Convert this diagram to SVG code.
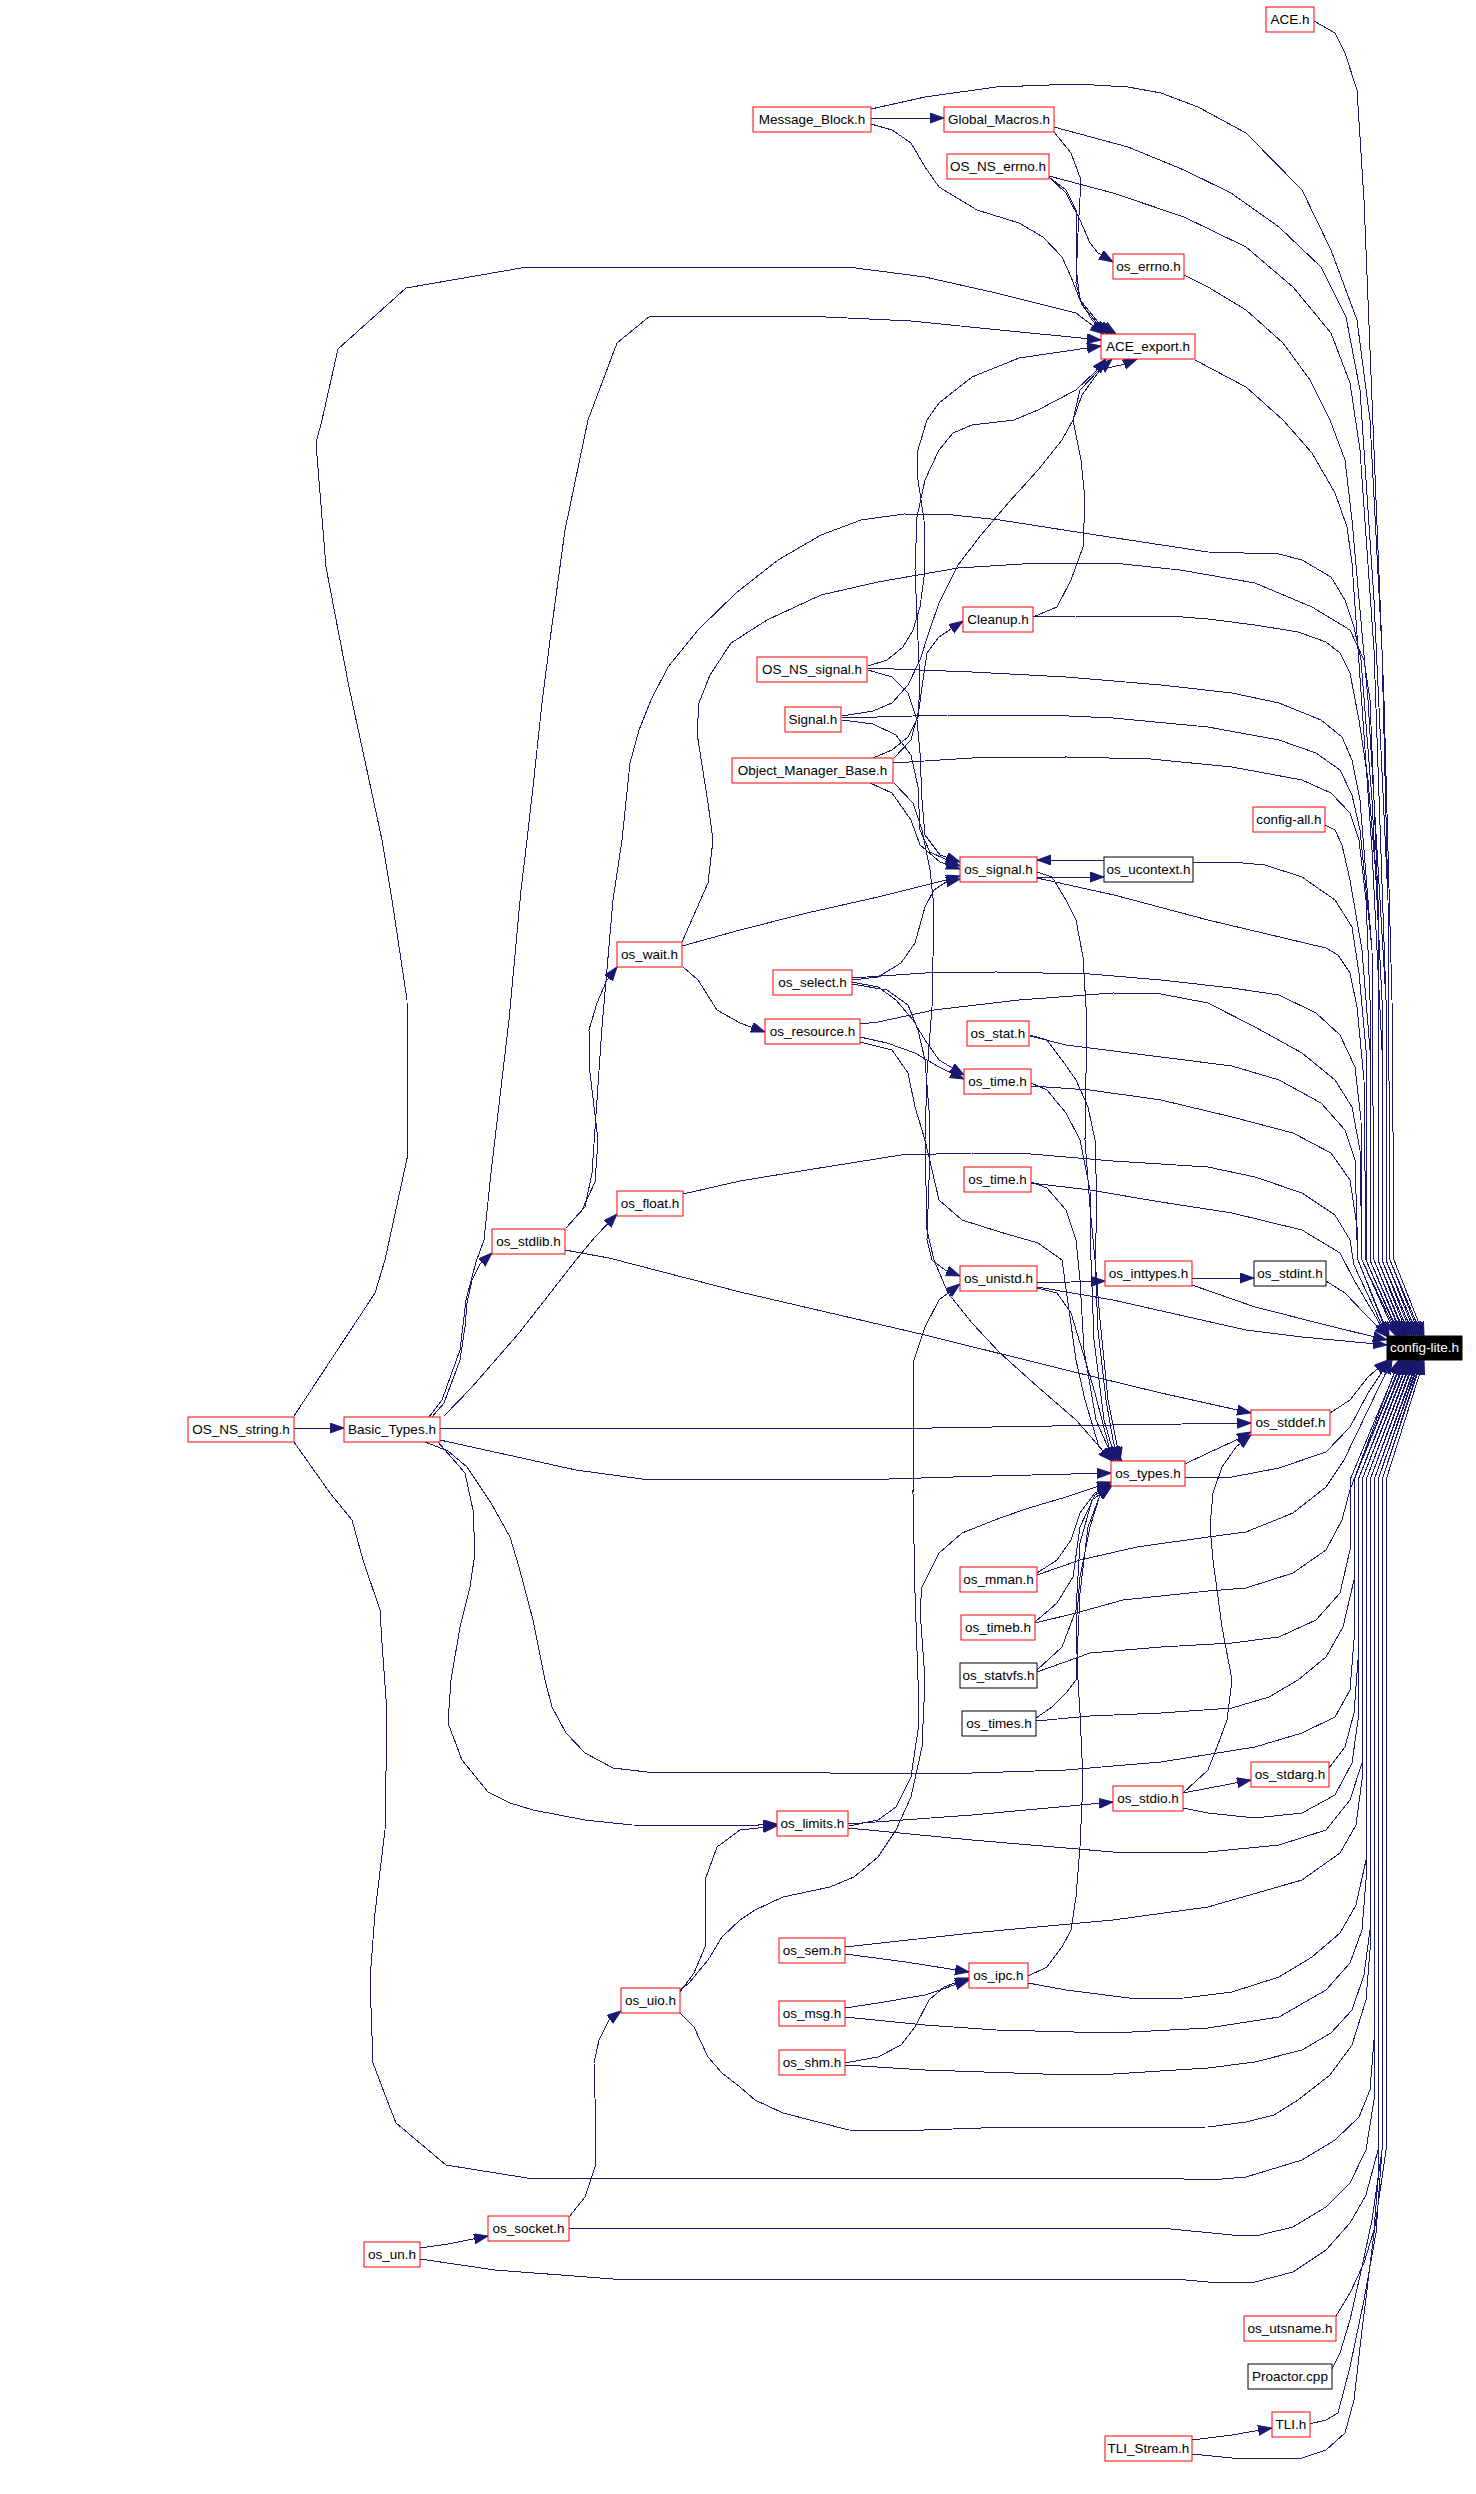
<svg xmlns="http://www.w3.org/2000/svg" width="1476" height="2494" viewBox="0 0 1476 2494">
<style>
#edges path{fill:none;stroke:#191970;stroke-width:1;marker-end:url(#ah);shape-rendering:crispEdges}
.n rect{fill:#fff;stroke:#ff0000;stroke-width:1}
.b rect{fill:#fff;stroke:#000;stroke-width:1}
.k rect{fill:#000;stroke:#000;stroke-width:1}
text{font-family:"Liberation Sans",Arial,Helvetica,sans-serif;font-size:13.5px;text-anchor:middle;fill:#000}
.k text{fill:#fff}
</style>
<defs>
<marker id="ah" markerUnits="userSpaceOnUse" markerWidth="15" markerHeight="11" refX="14" refY="5" orient="auto">
<path d="M0,0 L14,5 L0,10 z" fill="#191970" stroke="#191970" stroke-width="1"/>
</marker>
</defs>
<rect width="1476" height="2494" fill="#fff"/>
<g id="edges">
<path d="M1314,21 L1335,33 L1345,53 L1357,90 L1364,200 L1372,400 L1384,700 L1392,1000 L1394,1260 L1424,1336"/>
<path d="M871,109 L925,97 L996,87 L1076,84 L1128,87 L1161,93 L1198,107 L1246,133 L1302,190 L1331,250 L1357,320 L1370,420 L1382,650 L1388,900 L1390,1260 L1422,1336"/>
<path d="M1054,127 L1128,147 L1184,170 L1231,193 L1279,227 L1321,267 L1346,317 L1360,390 L1374,600 L1388,900 L1390,1260 L1420,1336"/>
<path d="M1049,176 L1113,193 L1184,217 L1246,247 L1293,287 L1331,333 L1350,383 L1360,450 L1374,650 L1386,1000 L1386,1260 L1418,1336"/>
<path d="M1184,275 L1208,287 L1246,310 L1283,343 L1310,380 L1330,420 L1345,460 L1352,520 L1368,700 L1386,1000 L1386,1260 L1416,1336"/>
<path d="M1195,360 L1246,387 L1283,420 L1312,453 L1335,493 L1347,527 L1352,563 L1356,620 L1372,850 L1382,1050 L1382,1260 L1414,1336"/>
<path d="M566,1228 L585,1207 L592,1173 L602,1027 L613,900 L622,840 L630,763 L639,730 L651,700 L668,667 L698,630 L736,593 L778,560 L821,535 L861,520 L904,514 L953,515 L1000,520 L1083,533 L1208,552 L1279,554 L1302,560 L1331,577 L1345,600 L1354,627 L1361,660 L1372,800 L1382,1000 L1382,1260 L1412,1336"/>
<path d="M682,942 L708,883 L713,840 L708,803 L697,733 L699,703 L710,675 L731,643 L767,620 L821,595 L878,582 L958,568 L1038,563 L1113,563 L1180,570 L1255,583 L1312,607 L1350,630 L1364,660 L1370,700 L1378,900 L1378,1260 L1410,1336"/>
<path d="M1033,617 L1076,616 L1170,616 L1208,619 L1255,625 L1298,632 L1326,642 L1340,653 L1350,673 L1359,720 L1368,780 L1378,900 L1378,1260 L1408,1336"/>
<path d="M868,668 L972,672 L1066,677 L1161,685 L1232,693 L1279,703 L1321,720 L1342,737 L1352,760 L1360,800 L1372,950 L1374,1260 L1406,1336"/>
<path d="M842,718 L948,715 L1047,715 L1113,718 L1208,727 L1279,740 L1316,753 L1340,770 L1352,795 L1360,830 L1372,950 L1374,1260 L1405,1336"/>
<path d="M893,763 L972,758 L1066,757 L1151,759 L1232,767 L1302,780 L1331,793 L1350,813 L1359,840 L1366,900 L1370,1000 L1370,1260 L1403,1336"/>
<path d="M1325,825 L1335,830 L1342,845 L1350,880 L1362,950 L1370,1050 L1370,1260 L1402,1336"/>
<path d="M1193,862 L1232,862 L1265,865 L1302,877 L1335,900 L1352,927 L1359,973 L1366,1050 L1366,1260 L1400,1336"/>
<path d="M1037,878 L1114,895 L1208,920 L1326,948 L1338,955 L1350,973 L1357,1007 L1364,1080 L1366,1260 L1399,1336"/>
<path d="M852,978 L925,973 L996,972 L1090,974 L1161,980 L1232,988 L1279,995 L1316,1013 L1340,1035 L1355,1067 L1361,1120 L1362,1260 L1398,1336"/>
<path d="M860,1024 L878,1022 L934,1010 L1019,1000 L1113,993 L1161,994 L1208,1003 L1255,1027 L1302,1053 L1335,1080 L1352,1107 L1360,1150 L1362,1260 L1396,1336"/>
<path d="M1030,1036 L1066,1045 L1161,1057 L1232,1066 L1279,1080 L1321,1103 L1345,1130 L1355,1160 L1358,1260 L1389,1336"/>
<path d="M1031,1086 L1090,1090 L1161,1100 L1232,1117 L1293,1133 L1331,1153 L1350,1180 L1356,1220 L1358,1260 L1388,1336"/>
<path d="M683,1194 L740,1181 L807,1170 L901,1155 L972,1153 L1019,1153 L1113,1161 L1208,1167 L1255,1177 L1302,1193 L1335,1215 L1350,1240 L1354,1265 L1387,1336"/>
<path d="M1031,1183 L1090,1190 L1161,1202 L1232,1213 L1302,1230 L1340,1253 L1354,1280 L1387,1336"/>
<path d="M1326,1281 L1345,1293 L1364,1313 L1388,1337"/>
<path d="M1192,1285 L1255,1307 L1326,1325 L1387,1340"/>
<path d="M1037,1287 L1113,1300 L1246,1330 L1302,1337 L1387,1345"/>
<path d="M1330,1413 L1350,1400 L1368,1377 L1388,1360"/>
<path d="M1185,1477 L1232,1477 L1279,1468 L1326,1452 L1350,1427 L1368,1393 L1390,1360"/>
<path d="M1037,1575 L1080,1560 L1137,1547 L1208,1537 L1246,1532 L1293,1513 L1326,1487 L1344,1460 L1392,1360"/>
<path d="M1035,1623 L1076,1613 L1123,1600 L1208,1591 L1246,1588 L1293,1573 L1326,1550 L1342,1520 L1350,1490 L1399,1360"/>
<path d="M1037,1672 L1090,1653 L1161,1647 L1232,1643 L1279,1637 L1316,1620 L1340,1593 L1350,1550 L1350,1480 L1400,1360"/>
<path d="M1036,1721 L1090,1716 L1161,1713 L1232,1708 L1269,1697 L1298,1680 L1326,1657 L1343,1627 L1354,1580 L1354,1480 L1402,1360"/>
<path d="M425,1442 L448,1451 L467,1467 L491,1503 L510,1537 L519,1567 L533,1620 L545,1680 L552,1707 L566,1733 L585,1753 L613,1768 L647,1772 L740,1772 L830,1773 L972,1773 L1066,1770 L1161,1762 L1255,1747 L1302,1733 L1335,1717 L1350,1690 L1354,1640 L1354,1480 L1403,1360"/>
<path d="M1329,1768 L1345,1747 L1354,1713 L1358,1660 L1358,1480 L1405,1360"/>
<path d="M1183,1808 L1208,1813 L1255,1818 L1302,1813 L1335,1795 L1352,1763 L1358,1720 L1358,1480 L1406,1360"/>
<path d="M848,1828 L972,1840 L1113,1852 L1208,1852 L1279,1845 L1326,1830 L1350,1800 L1362,1763 L1362,1480 L1408,1360"/>
<path d="M845,1947 L972,1933 L1113,1920 L1208,1907 L1302,1880 L1340,1853 L1356,1825 L1362,1780 L1362,1480 L1409,1360"/>
<path d="M1028,1983 L1066,1990 L1137,1999 L1184,1998 L1232,1992 L1279,1977 L1312,1957 L1340,1933 L1356,1905 L1366,1860 L1366,1480 L1411,1360"/>
<path d="M845,2017 L925,2025 L996,2030 L1113,2033 L1208,2028 L1279,2017 L1326,1990 L1350,1963 L1362,1930 L1366,1880 L1366,1480 L1412,1360"/>
<path d="M845,2065 L925,2070 L1043,2074 L1113,2074 L1208,2068 L1255,2062 L1302,2050 L1331,2033 L1352,2010 L1364,1975 L1370,1930 L1370,1480 L1414,1360"/>
<path d="M680,2013 L694,2027 L708,2057 L722,2073 L740,2087 L755,2100 L783,2113 L849,2130 L896,2131 L981,2128 L1208,2127 L1246,2122 L1274,2115 L1298,2100 L1330,2075 L1352,2045 L1366,2000 L1370,1950 L1370,1480 L1415,1360"/>
<path d="M294,1442 L330,1493 L352,1520 L363,1560 L380,1610 L382,1643 L387,1713 L385,1830 L375,1913 L370,1980 L373,2063 L387,2100 L396,2123 L446,2165 L527,2178 L740,2178 L1184,2179 L1222,2179 L1246,2177 L1302,2160 L1335,2140 L1359,2117 L1370,2090 L1374,2040 L1374,1480 L1417,1360"/>
<path d="M569,2228 L740,2228 L1161,2228 L1232,2235 L1260,2235 L1293,2227 L1326,2207 L1350,2183 L1366,2150 L1374,2100 L1374,1480 L1418,1360"/>
<path d="M420,2259 L495,2270 L613,2279 L740,2279 L1175,2279 L1208,2282 L1255,2282 L1293,2272 L1326,2250 L1350,2223 L1366,2195 L1378,2150 L1378,1480 L1419,1360"/>
<path d="M1336,2316 L1350,2293 L1364,2263 L1374,2230 L1378,2180 L1378,1480 L1420,1360"/>
<path d="M1332,2369 L1340,2353 L1350,2320 L1362,2267 L1372,2220 L1382,2150 L1382,1480 L1421,1360"/>
<path d="M1309,2424 L1326,2420 L1338,2413 L1350,2367 L1364,2300 L1376,2233 L1382,2150 L1382,1480 L1422,1360"/>
<path d="M1192,2454 L1232,2458 L1302,2458 L1326,2450 L1345,2433 L1354,2400 L1362,2330 L1374,2233 L1386,2150 L1386,1480 L1424,1360"/>
<path d="M871,118 L944,118"/>
<path d="M871,124 L892,130 L911,143 L925,167 L939,187 L977,210 L1019,223 L1043,237 L1062,257 L1071,277 L1080,300 L1092,320 L1108,334"/>
<path d="M1054,132 L1071,153 L1081,180 L1078,233 L1076,283 L1082,305 L1096,322 L1112,334"/>
<path d="M1049,177 L1066,190 L1076,210 L1076,267 L1080,300 L1098,322 L1116,334"/>
<path d="M1049,177 L1066,193 L1080,220 L1090,243 L1098,253 L1113,262"/>
<path d="M294,1416 L375,1293 L385,1260 L408,1154 L407,1000 L392,900 L382,840 L349,687 L326,567 L316,443 L322,420 L338,349 L406,288 L527,267 L736,267 L848,267 L925,277 L996,293 L1076,313 L1104,334"/>
<path d="M429,1417 L442,1400 L460,1350 L466,1300 L476,1262 L484,1240 L491,1173 L509,1020 L521,890 L527,840 L533,787 L542,703 L550,640 L565,530 L588,420 L617,343 L650,316 L740,316 L826,317 L911,321 L1000,330 L1101,340"/>
<path d="M868,666 L887,660 L903,647 L913,630 L920,607 L925,570 L924,520 L918,480 L917,453 L927,420 L939,403 L972,377 L1019,358 L1101,346"/>
<path d="M842,716 L873,711 L892,703 L908,685 L920,660 L929,632 L939,603 L958,565 L981,535 L1009,502 L1038,470 L1062,440 L1073,420 L1082,395 L1100,370 L1112,359"/>
<path d="M894,758 L911,740 L918,713 L920,687 L915,570 L917,517 L925,480 L939,450 L953,433 L972,425 L1014,420 L1038,410 L1076,390 L1095,372 L1106,359"/>
<path d="M1033,617 L1057,607 L1071,580 L1083,547 L1085,500 L1081,460 L1073,420 L1080,390 L1099,370 L1125,364 L1137,359"/>
<path d="M873,758 L892,750 L908,737 L918,717 L922,687 L927,653 L939,637 L963,621"/>
<path d="M868,670 L892,677 L908,693 L917,720 L920,753 L922,800 L925,835 L940,855 L960,862"/>
<path d="M842,720 L873,724 L896,735 L911,755 L918,787 L920,830 L930,852 L960,866"/>
<path d="M870,783 L892,793 L911,820 L920,845 L940,862 L960,869"/>
<path d="M894,783 L913,803 L922,830 L930,870 L934,907 L932,1007 L927,1073 L925,1140 L927,1230 L934,1260 L948,1293 L972,1323 L1000,1353 L1038,1387 L1076,1420 L1104,1452 L1114,1461"/>
<path d="M682,946 L740,930 L807,913 L878,897 L946,880 L960,876"/>
<path d="M852,980 L878,977 L901,963 L915,943 L925,907 L934,890 L946,882 L960,879"/>
<path d="M683,967 L698,980 L717,1010 L740,1023 L765,1032"/>
<path d="M852,982 L878,987 L896,1000 L913,1020 L925,1040 L939,1060 L964,1075"/>
<path d="M860,1037 L887,1043 L915,1053 L939,1067 L964,1079"/>
<path d="M852,984 L887,990 L908,1005 L918,1030 L925,1060 L929,1110 L929,1180 L927,1240 L932,1260 L945,1270 L960,1276"/>
<path d="M860,1042 L892,1050 L908,1073 L915,1107 L925,1140 L939,1200 L962,1220 L1000,1232 L1038,1243 L1062,1260 L1069,1310 L1076,1360 L1085,1400 L1099,1447 L1112,1461"/>
<path d="M1037,877 L1104,877"/>
<path d="M1104,860 L1037,860"/>
<path d="M1037,872 L1052,877 L1066,900 L1076,920 L1083,957 L1086,1007 L1086,1073 L1085,1140 L1090,1207 L1095,1260 L1100,1320 L1108,1400 L1116,1440 L1120,1461"/>
<path d="M1030,1035 L1047,1040 L1062,1060 L1076,1080 L1088,1107 L1095,1140 L1097,1207 L1095,1260 L1098,1330 L1106,1400 L1113,1440 L1118,1461"/>
<path d="M1031,1083 L1047,1090 L1066,1113 L1080,1140 L1090,1190 L1091,1260 L1094,1340 L1104,1420 L1116,1461"/>
<path d="M1031,1182 L1047,1188 L1066,1210 L1076,1240 L1080,1280 L1084,1350 L1096,1420 L1114,1461"/>
<path d="M1037,1288 L1057,1293 L1071,1313 L1080,1343 L1095,1393 L1109,1447 L1122,1461"/>
<path d="M1037,1283 L1105,1281"/>
<path d="M1192,1278 L1254,1278"/>
<path d="M432,1417 L444,1403 L460,1360 L465,1327 L467,1303 L472,1280 L480,1264 L492,1253"/>
<path d="M444,1416 L472,1387 L519,1333 L576,1260 L595,1237 L617,1214"/>
<path d="M440,1428 L740,1428 L932,1428 L1113,1425 L1251,1423"/>
<path d="M440,1440 L576,1470 L642,1479 L740,1479 L889,1479 L953,1477 L1111,1473"/>
<path d="M438,1442 L465,1473 L473,1510 L475,1553 L470,1587 L460,1627 L451,1680 L448,1723 L462,1760 L488,1792 L510,1803 L533,1810 L585,1820 L632,1825 L740,1826 L777,1824"/>
<path d="M294,1428 L344,1428"/>
<path d="M566,1228 L582,1210 L595,1182 L598,1140 L590,1073 L589,1030 L597,1003 L607,980 L617,967"/>
<path d="M565,1250 L609,1258 L740,1292 L925,1335 L1066,1370 L1161,1393 L1251,1413"/>
<path d="M1185,1464 L1208,1453 L1232,1442 L1251,1432"/>
<path d="M1183,1793 L1208,1770 L1217,1747 L1227,1720 L1232,1680 L1222,1627 L1213,1560 L1210,1527 L1213,1493 L1222,1467 L1236,1447 L1251,1435"/>
<path d="M1037,1573 L1057,1560 L1071,1540 L1080,1513 L1095,1493 L1111,1484"/>
<path d="M1035,1622 L1057,1603 L1073,1577 L1080,1527 L1095,1495 L1111,1485"/>
<path d="M1037,1670 L1062,1647 L1076,1610 L1080,1543 L1092,1500 L1111,1486"/>
<path d="M1036,1718 L1052,1707 L1066,1693 L1076,1680 L1080,1593 L1088,1527 L1100,1495 L1111,1487"/>
<path d="M1028,1976 L1047,1967 L1062,1947 L1071,1930 L1076,1897 L1080,1847 L1083,1780 L1080,1713 L1078,1680 L1076,1627 L1080,1577 L1090,1527 L1100,1495 L1111,1486"/>
<path d="M680,1990 L689,1983 L708,1960 L722,1937 L740,1920 L755,1910 L783,1897 L830,1887 L854,1877 L878,1857 L896,1830 L911,1797 L922,1747 L925,1680 L920,1610 L922,1587 L939,1553 L962,1533 L1000,1518 L1029,1508 L1066,1497 L1111,1482"/>
<path d="M680,1992 L694,1973 L705,1947 L705,1880 L717,1847 L740,1830 L777,1826"/>
<path d="M849,1826 L878,1820 L896,1807 L911,1777 L918,1730 L918,1680 L915,1593 L913,1493 L914,1360 L925,1327 L939,1300 L960,1284"/>
<path d="M848,1824 L972,1815 L1113,1802"/>
<path d="M1183,1793 L1251,1780"/>
<path d="M845,1954 L906,1962 L969,1972"/>
<path d="M845,2008 L878,2003 L925,1995 L969,1980"/>
<path d="M845,2063 L878,2057 L901,2045 L915,2027 L929,2000 L944,1987 L969,1978"/>
<path d="M569,2217 L585,2197 L595,2167 L596,2133 L594,2063 L599,2040 L609,2020 L621,2011"/>
<path d="M420,2248 L448,2244 L488,2236"/>
<path d="M1192,2440 L1232,2435 L1272,2428"/>
</g>
<g id="n_ACE_h" class="n"><rect x="1266" y="7" width="48" height="25"/><text x="1290" y="24">ACE.h</text></g>
<g id="n_Message_Block_h" class="n"><rect x="753" y="107" width="118" height="25"/><text x="812" y="124">Message_Block.h</text></g>
<g id="n_Global_Macros_h" class="n"><rect x="944" y="107" width="110" height="25"/><text x="999" y="124">Global_Macros.h</text></g>
<g id="n_OS_NS_errno_h" class="n"><rect x="947" y="154" width="102" height="25"/><text x="998" y="171">OS_NS_errno.h</text></g>
<g id="n_os_errno_h" class="n"><rect x="1113" y="254" width="71" height="25"/><text x="1148.5" y="271">os_errno.h</text></g>
<g id="n_ACE_export_h" class="n"><rect x="1101" y="334" width="94" height="25"/><text x="1148" y="351">ACE_export.h</text></g>
<g id="n_Cleanup_h" class="n"><rect x="963" y="607" width="70" height="25"/><text x="998" y="624">Cleanup.h</text></g>
<g id="n_OS_NS_signal_h" class="n"><rect x="757" y="657" width="110" height="25"/><text x="812" y="674">OS_NS_signal.h</text></g>
<g id="n_Signal_h" class="n"><rect x="785" y="707" width="56" height="25"/><text x="813" y="724">Signal.h</text></g>
<g id="n_Object_Manager_Base_h" class="n"><rect x="732" y="758" width="161" height="25"/><text x="812.5" y="775">Object_Manager_Base.h</text></g>
<g id="n_config_all_h" class="n"><rect x="1253" y="807" width="72" height="25"/><text x="1289" y="824">config-all.h</text></g>
<g id="n_os_signal_h" class="n"><rect x="960" y="857" width="77" height="25"/><text x="998.5" y="874">os_signal.h</text></g>
<g id="n_os_ucontext_h" class="b"><rect x="1104" y="857" width="89" height="25"/><text x="1148.5" y="874">os_ucontext.h</text></g>
<g id="n_os_wait_h" class="n"><rect x="617" y="942" width="65" height="25"/><text x="649.5" y="959">os_wait.h</text></g>
<g id="n_os_select_h" class="n"><rect x="773" y="970" width="79" height="25"/><text x="812.5" y="987">os_select.h</text></g>
<g id="n_os_resource_h" class="n"><rect x="765" y="1019" width="95" height="25"/><text x="812.5" y="1036">os_resource.h</text></g>
<g id="n_os_stat_h" class="n"><rect x="967" y="1021" width="62" height="25"/><text x="998" y="1038">os_stat.h</text></g>
<g id="n_os_time_h_1" class="n"><rect x="964" y="1069" width="67" height="25"/><text x="997.5" y="1086">os_time.h</text></g>
<g id="n_os_time_h_2" class="n"><rect x="964" y="1167" width="67" height="25"/><text x="997.5" y="1184">os_time.h</text></g>
<g id="n_os_float_h" class="n"><rect x="617" y="1191" width="66" height="25"/><text x="650" y="1208">os_float.h</text></g>
<g id="n_os_stdlib_h" class="n"><rect x="492" y="1229" width="73" height="25"/><text x="528.5" y="1246">os_stdlib.h</text></g>
<g id="n_os_unistd_h" class="n"><rect x="960" y="1266" width="77" height="25"/><text x="998.5" y="1283">os_unistd.h</text></g>
<g id="n_os_inttypes_h" class="n"><rect x="1105" y="1261" width="87" height="25"/><text x="1148.5" y="1278">os_inttypes.h</text></g>
<g id="n_os_stdint_h" class="b"><rect x="1254" y="1261" width="72" height="25"/><text x="1290" y="1278">os_stdint.h</text></g>
<g id="n_config_lite_h" class="k"><rect x="1387" y="1336" width="75" height="24"/><text x="1424.5" y="1352">config-lite.h</text></g>
<g id="n_OS_NS_string_h" class="n"><rect x="188" y="1417" width="106" height="25"/><text x="241" y="1434">OS_NS_string.h</text></g>
<g id="n_Basic_Types_h" class="n"><rect x="344" y="1417" width="96" height="25"/><text x="392" y="1434">Basic_Types.h</text></g>
<g id="n_os_stddef_h" class="n"><rect x="1251" y="1410" width="79" height="25"/><text x="1290.5" y="1427">os_stddef.h</text></g>
<g id="n_os_types_h" class="n"><rect x="1111" y="1461" width="74" height="25"/><text x="1148" y="1478">os_types.h</text></g>
<g id="n_os_mman_h" class="n"><rect x="960" y="1567" width="77" height="25"/><text x="998.5" y="1584">os_mman.h</text></g>
<g id="n_os_timeb_h" class="n"><rect x="961" y="1615" width="74" height="25"/><text x="998" y="1632">os_timeb.h</text></g>
<g id="n_os_statvfs_h" class="b"><rect x="960" y="1663" width="77" height="25"/><text x="998.5" y="1680">os_statvfs.h</text></g>
<g id="n_os_times_h" class="b"><rect x="962" y="1711" width="74" height="25"/><text x="999" y="1728">os_times.h</text></g>
<g id="n_os_stdarg_h" class="n"><rect x="1251" y="1762" width="78" height="25"/><text x="1290" y="1779">os_stdarg.h</text></g>
<g id="n_os_stdio_h" class="n"><rect x="1113" y="1786" width="70" height="25"/><text x="1148" y="1803">os_stdio.h</text></g>
<g id="n_os_limits_h" class="n"><rect x="777" y="1811" width="71" height="25"/><text x="812.5" y="1828">os_limits.h</text></g>
<g id="n_os_sem_h" class="n"><rect x="779" y="1938" width="66" height="25"/><text x="812" y="1955">os_sem.h</text></g>
<g id="n_os_ipc_h" class="n"><rect x="969" y="1963" width="59" height="25"/><text x="998.5" y="1980">os_ipc.h</text></g>
<g id="n_os_msg_h" class="n"><rect x="779" y="2001" width="66" height="25"/><text x="812" y="2018">os_msg.h</text></g>
<g id="n_os_shm_h" class="n"><rect x="779" y="2050" width="66" height="25"/><text x="812" y="2067">os_shm.h</text></g>
<g id="n_os_uio_h" class="n"><rect x="621" y="1988" width="59" height="25"/><text x="650.5" y="2005">os_uio.h</text></g>
<g id="n_os_socket_h" class="n"><rect x="488" y="2216" width="81" height="25"/><text x="528.5" y="2233">os_socket.h</text></g>
<g id="n_os_un_h" class="n"><rect x="364" y="2242" width="56" height="25"/><text x="392" y="2259">os_un.h</text></g>
<g id="n_os_utsname_h" class="n"><rect x="1244" y="2316" width="92" height="25"/><text x="1290" y="2333">os_utsname.h</text></g>
<g id="n_Proactor_cpp" class="b"><rect x="1248" y="2364" width="84" height="25"/><text x="1290" y="2381">Proactor.cpp</text></g>
<g id="n_TLI_h" class="n"><rect x="1272" y="2412" width="38" height="25"/><text x="1291" y="2429">TLI.h</text></g>
<g id="n_TLI_Stream_h" class="n"><rect x="1105" y="2436" width="87" height="25"/><text x="1148.5" y="2453">TLI_Stream.h</text></g>
</svg>
